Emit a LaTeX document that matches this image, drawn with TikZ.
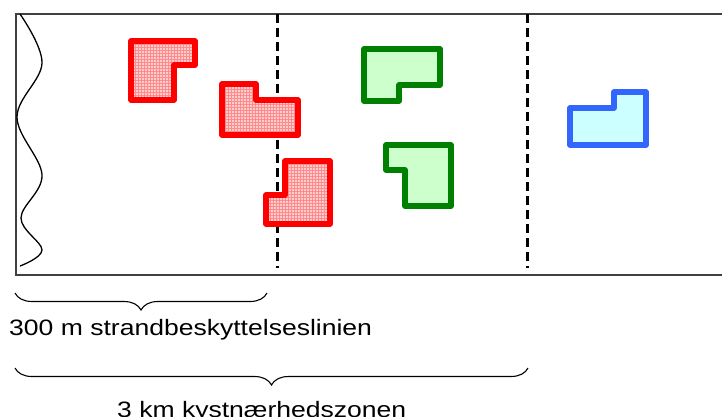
\documentclass[tikz,border=0pt]{standalone}
\usepackage{fontspec}
\setmainfont{Liberation Sans}[FakeStretch=1.19]
\usetikzlibrary{patterns,decorations.pathreplacing}
\definecolor{lotpink}{RGB}{255,205,205}
\definecolor{lotgreen}{RGB}{0,128,0}
\definecolor{lotlightgreen}{RGB}{204,255,204}
\definecolor{lotblue}{RGB}{51,102,255}
\definecolor{lotlightblue}{RGB}{204,255,255}
\definecolor{framegray}{RGB}{64,64,64}
\begin{document}
\begin{tikzpicture}
	[x=1pt,y=-1pt,
	lot/.style={line width=5.5pt,line join=round},
	redlot/.style={lot,draw=red,preaction={fill=lotpink},pattern=grid,pattern color=red!45},
	greenlot/.style={lot,draw=lotgreen,fill=lotlightgreen},
	bluelot/.style={lot,draw=lotblue,fill=lotlightblue},
	zone/.style={line width=3pt,dash pattern=on 9pt off 5pt},
	zonebrace/.style={decorate,decoration={brace,mirror,amplitude=17pt},line width=1.1pt},
	zonetext/.style={font=\fontsize{22.3}{26}\selectfont,inner sep=0pt,anchor=base west}]
	\useasboundingbox (0,0) rectangle (722,416);
	% frame and coast
	\draw[framegray,line width=1.4pt](722,14) -- (16,14) -- (16,275) -- (722,275);
	\draw[line width=1.3pt] plot[smooth,tension=0.6] coordinates
		{(20,14) (42,63) (17,117) (42,175) (21,218) (42,250) (20,266)};
	% zone limits
	\draw[zone](277,14) -- (277,268);
	\draw[zone](527,14) -- (527,268);
	% lots
	\draw[redlot](131,41) -- (195,41) -- (195,65) -- (174,65) -- (174,100) -- (131,100) -- cycle;
	\draw[redlot](222,84) -- (256,84) -- (256,100) -- (298,100) -- (298,135) -- (222,135) -- cycle;
	\draw[redlot](285,161) -- (330,161) -- (330,224) -- (266,224) -- (266,195) -- (285,195) -- cycle;
	\draw[greenlot](364,49) -- (440,49) -- (440,85) -- (399,85) -- (399,101) -- (364,101) -- cycle;
	\draw[greenlot](386,145) -- (451,145) -- (451,206) -- (405,206) -- (405,170) -- (386,170) -- cycle;
	\draw[bluelot](614,92) -- (646,92) -- (646,145) -- (570,145) -- (570,108) -- (614,108) -- cycle;
	% braces
	\draw[zonebrace](15,293) -- (267,293);
	\node[zonetext,name=beach]at(9,335){300 m strandbeskyttelseslinien};
	\draw[zonebrace](15,368) -- (528,368);
	\node[zonetext,name=coast]at(117,417){3 km kystnærhedszonen};
\end{tikzpicture}
\end{document}
